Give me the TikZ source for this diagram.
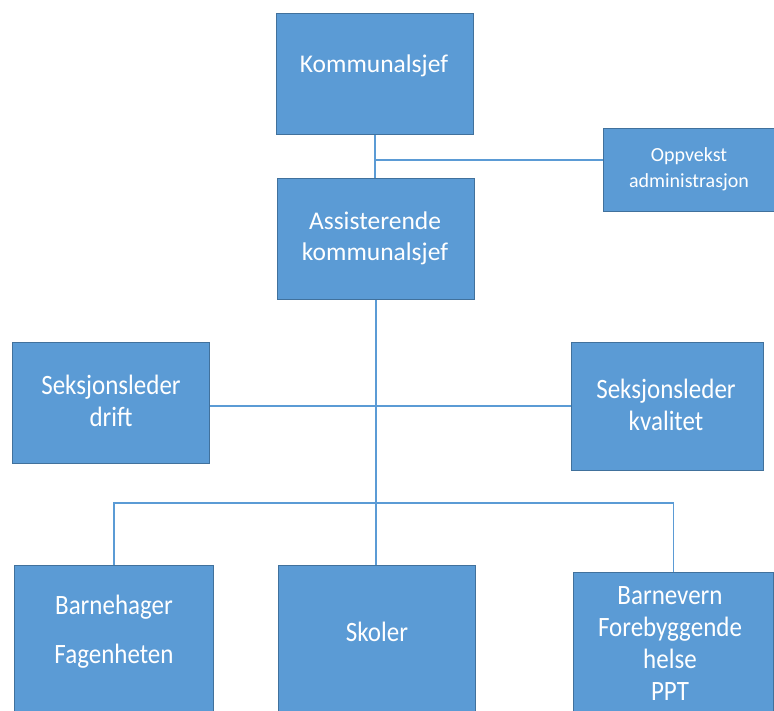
\documentclass[tikz,border=0pt]{standalone}
\usepackage{fontspec}
\setmainfont{Carlito}
\definecolor{boxfill}{HTML}{5B9BD5}
\definecolor{boxline}{HTML}{41719C}
\definecolor{conn}{HTML}{5B9BD5}
\newcommand{\tallish}[1]{\scalebox{1}[1.12]{#1}}
\begin{document}
\begin{tikzpicture}[x=1pt,y=-1pt,
  orgbox/.style={draw=boxline,line width=0.9pt,fill=boxfill,rectangle,inner sep=0pt,anchor=north west},
  lbl/.style={text=white,align=center,inner sep=0pt,font=\fontsize{25.5}{31}\selectfont},
  lowlbl/.style={text=white,align=center,inner sep=0pt,font=\fontsize{25}{32}\selectfont},
  small/.style={text=white,align=center,inner sep=0pt,font=\fontsize{20}{26}\selectfont},
  link/.style={draw=conn,line width=1.2pt}]
\useasboundingbox (0,0) rectangle (774,711);
\clip (0,0) rectangle (774,711);
% boxes
\node[orgbox,minimum width=197pt,minimum height=121pt] (k) at (276,13) {};
\node[orgbox,minimum width=197pt,minimum height=121pt] (a) at (277,178) {};
\node[orgbox,minimum width=171pt,minimum height=83pt] (o) at (603,128) {};
\node[orgbox,minimum width=197pt,minimum height=121pt] (d) at (12,342) {};
\node[orgbox,minimum width=192pt,minimum height=128pt] (q) at (571,342) {};
\node[orgbox,minimum width=199pt,minimum height=160pt] (bh) at (14,565) {};
\node[orgbox,minimum width=197pt,minimum height=160pt] (s) at (278,565) {};
\node[orgbox,minimum width=200pt,minimum height=160pt] (bv) at (573,572) {};
% texts
\node[lbl] (tk) at (374,66) {Kommunalsjef};
\node[lbl] (ta) at (375,238) {Assisterende\\kommunalsjef};
\node[small] (to) at (689,169) {Oppvekst\\administrasjon};
\node[lowlbl] (td) at (111,401) {\tallish{Seksjonsleder}\\\tallish{drift}};
\node[lowlbl] (tq) at (666,405) {\tallish{Seksjonsleder}\\\tallish{kvalitet}};
\node[lowlbl,font=\fontsize{25}{49}\selectfont] (tbh) at (114,632) {\tallish{Barnehager}\\\tallish{Fagenheten}};
\node[lowlbl] (ts) at (377,632) {\tallish{Skoler}};
\node[lowlbl] (tbv) at (670,644) {\tallish{Barnevern}\\\tallish{Forebyggende}\\\tallish{helse}\\\tallish{PPT}};
% connectors
\coordinate (j1) at (375,160);
\coordinate (j2) at (376,503);
\draw[link] (k.south -| j1) -- (a.north -| j1);
\draw[link] (j1) -- (j1 -| o.west);
\draw[link] (a.south -| j2) -- (s.north -| j2);
\draw[link] (d.east |- 0,406) -- (q.west |- 0,406);
\draw[link] (bh.north) |- (j2) -| (bv.north);
\end{tikzpicture}
\end{document}
